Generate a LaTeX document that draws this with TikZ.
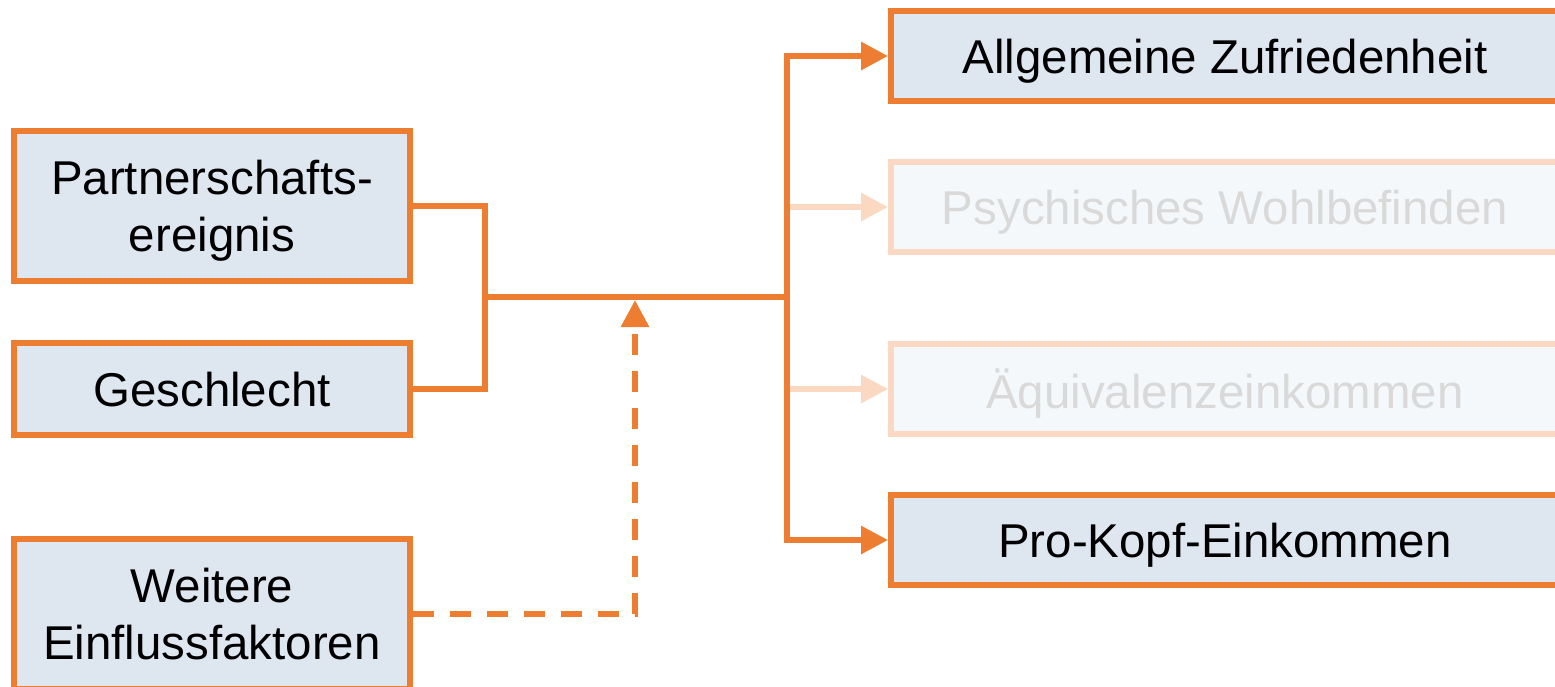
\documentclass[tikz,border=0pt]{standalone}
\usepackage{fontspec}
\setmainfont{Liberation Sans}
\usepackage{tikz}
\usetikzlibrary{arrows.meta,positioning}

\definecolor{lineorange}{RGB}{237,125,49}
\definecolor{boxfill}{RGB}{222,230,240}

\begin{document}
\begin{tikzpicture}[
    every node/.style={draw=lineorange, line width=1.7pt, fill=boxfill, align=center, text depth=0pt, font=\fontsize{13.5}{16.2}\selectfont},
    leftbox/.style={minimum width=3.96cm, minimum height=1.5cm},
    rightbox/.style={minimum width=6.68cm, minimum height=0.9cm},
    faded/.style={draw=lineorange!30, fill=boxfill!30, text=black!15},
    link/.style={draw=lineorange, line width=1.7pt},
    arrow/.style={link, -{Triangle[length=0.27cm,width=0.27cm]}},
    fadedarrow/.style={link, draw=lineorange!30, -{Triangle[length=0.27cm,width=0.27cm,fill=lineorange!30]}},
    dasharrow/.style={arrow, dash pattern=on 0.21cm off 0.16cm}
]
\useasboundingbox (0,0) rectangle (15.55,-6.86);

\node[leftbox] (partner) at (2.12,-2.06) {Partnerschafts-\\ereignis};
\node[leftbox, minimum height=0.92cm] (geschl) [below of=partner, node distance=1.83cm] {Geschlecht};
\node[leftbox] (weitere) [below of=geschl, node distance=2.25cm] {Weitere\\Einflussfaktoren};

\node[rightbox] (allg) at (12.25,-0.56) {Allgemeine Zufriedenheit};
\node[rightbox, faded] (psych) [below of=allg, node distance=1.51cm] {Psychisches Wohlbefinden};
\node[rightbox, faded] (aequi) [below of=psych, node distance=1.82cm] {Äquivalenzeinkommen};
\node[rightbox] (prokopf) [below of=aequi, node distance=1.51cm] {Pro-Kopf-Einkommen};

\coordinate (jl) at (4.85,-2.97);
\coordinate (jr) at (7.87,-2.97);
\coordinate (jd) at (6.35,-3.0);

\draw[link] (partner.east) -| (jl) |- (geschl.east);
\draw[link] (jl) -- (jr);
\draw[fadedarrow] (jr) |- (psych.west);
\draw[fadedarrow] (jr) |- (aequi.west);
\draw[arrow] (jr) |- (allg.west);
\draw[arrow] (jr) |- (prokopf.west);
\draw[dasharrow] (weitere.east) -| (jd);
\end{tikzpicture}
\end{document}
